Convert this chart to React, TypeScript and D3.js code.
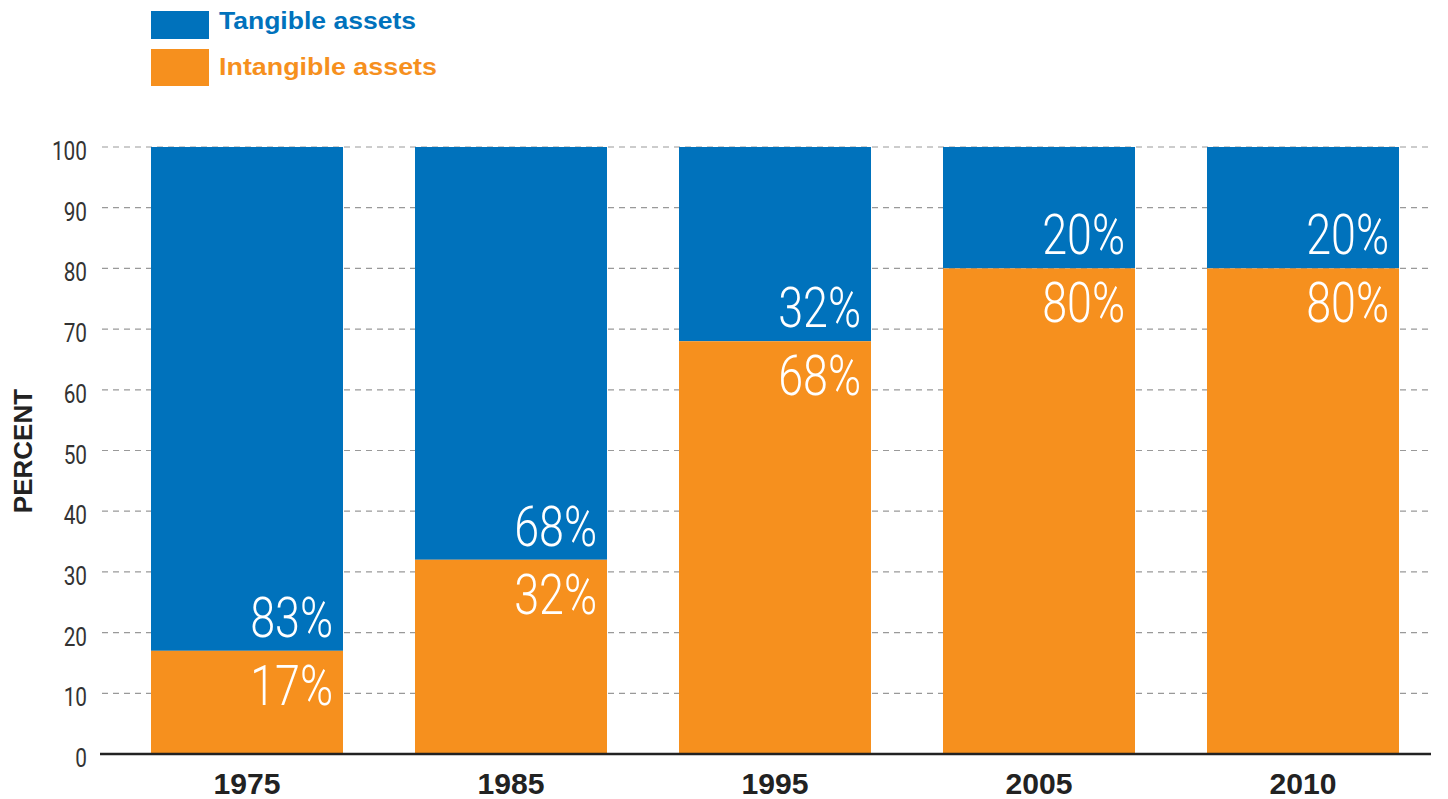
import React from "react";
import * as d3 from "d3";

const years = ["1975", "1985", "1995", "2005", "2010"];
const intangible = [17, 32, 68, 80, 80];
const tangible = [83, 68, 32, 20, 20];
const yTicks = [0, 10, 20, 30, 40, 50, 60, 70, 80, 90, 100];

const BLUE = "#0072BC";
const ORANGE = "#F6901E";
const W = 1448;
const H = 799;

export default function App() {
  const x = d3.scaleBand().domain(years).range([115, 1435]).paddingInner(72 / 264).paddingOuter(36 / 264);
  const y = d3.scaleLinear().domain([0, 100]).range([754, 147]);
  const light = "Roboto, 'Noto Sans', sans-serif";
  const bold = "'Liberation Sans', Arial, sans-serif";
  return (
    <svg width={W} height={H} style={{ position: "absolute", left: 0, top: 0, background: "#fff" }}>
      {/* legend */}
      <rect x={151} y={11} width={58} height={28} fill={BLUE} />
      <text x={219} y={29} fontFamily={bold} fontWeight="bold" fontSize={24} fill={BLUE} textLength={197} lengthAdjust="spacingAndGlyphs">Tangible assets</text>
      <rect x={151} y={49} width={58} height={37} fill={ORANGE} />
      <text x={219} y={75} fontFamily={bold} fontWeight="bold" fontSize={24} fill={ORANGE} textLength={218} lengthAdjust="spacingAndGlyphs">Intangible assets</text>

      {/* grid */}
      {yTicks.filter((t) => t > 0).map((t) => (
        <line key={t} x1={102} x2={1431} y1={y(t)} y2={y(t)} stroke="#999" strokeWidth={1.2} strokeDasharray="6 5" />
      ))}
      {yTicks.map((t) => (
        <text key={t} transform={`translate(87,${y(t) + 13}) scale(0.8,1)`} textAnchor="end" fontFamily={light} fontWeight={400} fontSize={26} fill="#333">{t}</text>
      ))}
      <text transform="translate(32,451) rotate(-90)" textAnchor="middle" fontFamily={bold} fontWeight="bold" fontSize={26} fill="#222">PERCENT</text>

      {/* bars */}
      {years.map((yr, i) => {
        const bx = x(yr)!;
        const bw = x.bandwidth();
        const b = y(intangible[i]);
        const top = y(intangible[i] + tangible[i]);
        return (
          <g key={yr}>
            <rect x={bx} y={top} width={bw} height={b - top} fill={BLUE} />
            <rect x={bx} y={b} width={bw} height={y(0) - b} fill={ORANGE} />
            <text transform={`translate(${bx + bw - 10},${b - 14}) scale(0.8,1)`} textAnchor="end" fontFamily={light} fontWeight={300} fontSize={56} fill="#fff">{tangible[i]}%</text>
            <text transform={`translate(${bx + bw - 10},${b + 54}) scale(0.8,1)`} textAnchor="end" fontFamily={light} fontWeight={300} fontSize={56} fill="#fff">{intangible[i]}%</text>
            <text x={bx + bw / 2} y={794} textAnchor="middle" fontFamily={bold} fontWeight="bold" fontSize={29} fill="#222" textLength={67} lengthAdjust="spacingAndGlyphs">{yr}</text>
          </g>
        );
      })}
      <line x1={100} x2={1431} y1={y(0)} y2={y(0)} stroke="#222" strokeWidth={2.5} />
    </svg>
  );
}
